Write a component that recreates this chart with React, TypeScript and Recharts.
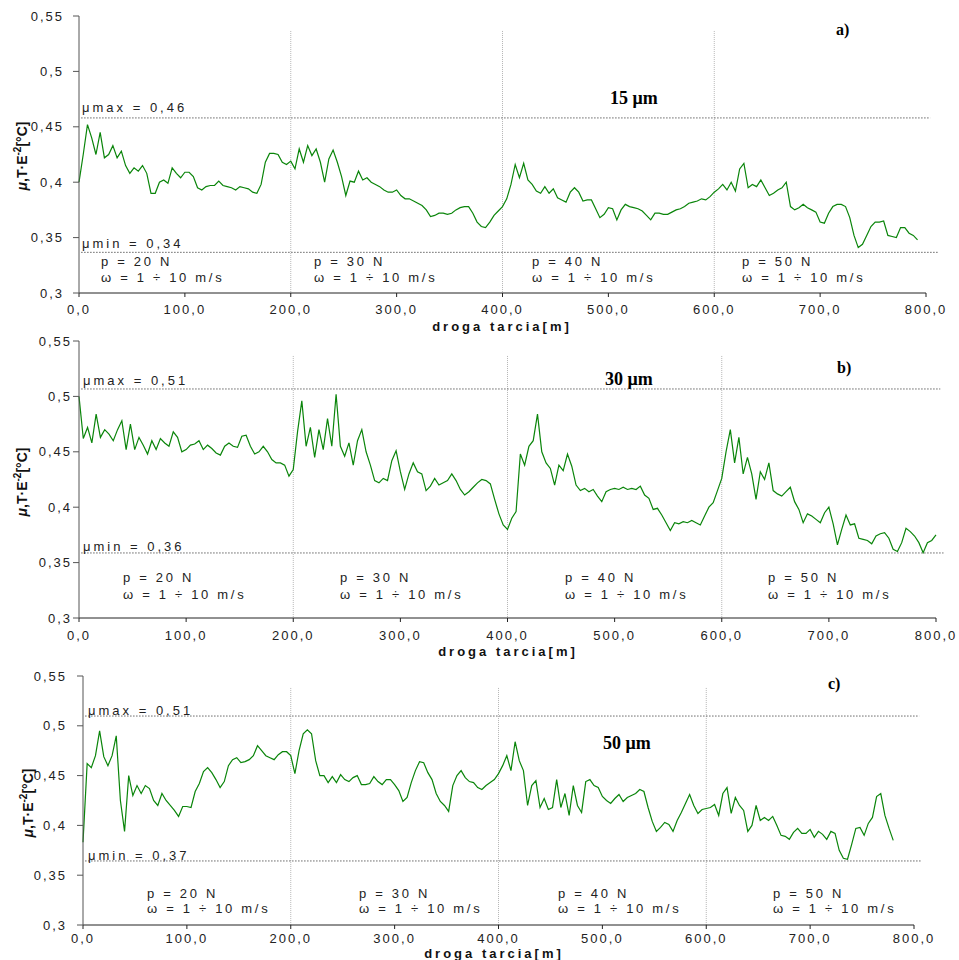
import React from "react";
import { LineChart, Line, XAxis, YAxis, ReferenceLine } from "recharts";

// sampling step of the friction-path readings [m]
const STEP_M = 4;

// ─── μ·T·E⁻² readings, 15 μm (panel a) ───────────────────────────────────────
const MU_15 = [
  0.400, 0.425, 0.452, 0.440, 0.425, 0.445, 0.422, 0.425, 0.433, 0.422,
  0.428, 0.415, 0.408, 0.413, 0.410, 0.415, 0.408, 0.390, 0.390, 0.400,
  0.402, 0.399, 0.413, 0.408, 0.404, 0.409, 0.409, 0.405, 0.395, 0.393,
  0.396, 0.397, 0.397, 0.401, 0.397, 0.396, 0.395, 0.393, 0.396, 0.395,
  0.394, 0.391, 0.390, 0.398, 0.418, 0.426, 0.426, 0.425, 0.418, 0.416,
  0.419, 0.412, 0.430, 0.418, 0.433, 0.424, 0.430, 0.418, 0.400, 0.421,
  0.429, 0.418, 0.405, 0.388, 0.401, 0.400, 0.410, 0.402, 0.404, 0.400,
  0.398, 0.396, 0.393, 0.391, 0.391, 0.393, 0.388, 0.385, 0.385, 0.383,
  0.381, 0.379, 0.375, 0.369, 0.370, 0.372, 0.372, 0.371, 0.372, 0.375,
  0.377, 0.378, 0.378, 0.372, 0.364, 0.360, 0.359, 0.364, 0.370, 0.374,
  0.378, 0.385, 0.398, 0.416, 0.404, 0.417, 0.402, 0.398, 0.392, 0.390,
  0.396, 0.390, 0.394, 0.386, 0.384, 0.382, 0.391, 0.395, 0.391, 0.383,
  0.384, 0.384, 0.376, 0.368, 0.371, 0.377, 0.376, 0.366, 0.375, 0.380,
  0.378, 0.377, 0.376, 0.374, 0.370, 0.366, 0.372, 0.372, 0.371, 0.371,
  0.373, 0.375, 0.376, 0.378, 0.381, 0.382, 0.383, 0.385, 0.384, 0.387,
  0.391, 0.394, 0.398, 0.393, 0.400, 0.392, 0.412, 0.417, 0.395, 0.398,
  0.396, 0.402, 0.395, 0.388, 0.390, 0.393, 0.395, 0.400, 0.378, 0.375,
  0.377, 0.380, 0.377, 0.375, 0.373, 0.364, 0.363, 0.372, 0.378, 0.380,
  0.380, 0.378, 0.368, 0.352, 0.341, 0.344, 0.352, 0.360, 0.364, 0.364,
  0.365, 0.352, 0.351, 0.350, 0.359, 0.359, 0.354, 0.352, 0.348,
];

// ─── 30 μm (panel b) ─────────────────────────────────────────────────────────
const MU_30 = [
  0.500, 0.462, 0.472, 0.458, 0.484, 0.463, 0.470, 0.466, 0.460, 0.470,
  0.478, 0.452, 0.475, 0.452, 0.463, 0.456, 0.448, 0.460, 0.452, 0.462,
  0.458, 0.455, 0.468, 0.463, 0.450, 0.452, 0.456, 0.457, 0.460, 0.452,
  0.456, 0.453, 0.449, 0.447, 0.455, 0.458, 0.455, 0.454, 0.464, 0.465,
  0.455, 0.448, 0.450, 0.455, 0.450, 0.443, 0.440, 0.440, 0.438, 0.428,
  0.434, 0.468, 0.496, 0.455, 0.472, 0.445, 0.470, 0.452, 0.480, 0.455,
  0.502, 0.455, 0.446, 0.458, 0.438, 0.460, 0.470, 0.450, 0.438, 0.424,
  0.422, 0.426, 0.424, 0.442, 0.451, 0.432, 0.416, 0.430, 0.440, 0.432,
  0.430, 0.415, 0.419, 0.426, 0.420, 0.422, 0.424, 0.430, 0.424, 0.416,
  0.411, 0.414, 0.418, 0.422, 0.425, 0.424, 0.421, 0.407, 0.394, 0.384,
  0.380, 0.390, 0.396, 0.448, 0.438, 0.455, 0.460, 0.484, 0.450, 0.440,
  0.435, 0.420, 0.438, 0.433, 0.448, 0.437, 0.420, 0.415, 0.417, 0.414,
  0.416, 0.410, 0.405, 0.414, 0.416, 0.417, 0.416, 0.418, 0.416, 0.417,
  0.416, 0.419, 0.411, 0.408, 0.398, 0.399, 0.393, 0.386, 0.379, 0.386,
  0.385, 0.387, 0.386, 0.388, 0.386, 0.384, 0.392, 0.400, 0.404, 0.415,
  0.426, 0.450, 0.470, 0.440, 0.463, 0.430, 0.445, 0.430, 0.407, 0.432,
  0.425, 0.440, 0.415, 0.412, 0.410, 0.414, 0.418, 0.405, 0.398, 0.386,
  0.394, 0.392, 0.389, 0.386, 0.395, 0.400, 0.385, 0.366, 0.380, 0.393,
  0.384, 0.385, 0.372, 0.371, 0.370, 0.367, 0.374, 0.376, 0.377, 0.372,
  0.362, 0.360, 0.368, 0.381, 0.378, 0.374, 0.368, 0.359, 0.368, 0.370,
  0.375,
];

// ─── 50 μm (panel c) ─────────────────────────────────────────────────────────
const MU_50 = [
  0.383, 0.462, 0.458, 0.470, 0.495, 0.469, 0.460, 0.470, 0.490, 0.425,
  0.394, 0.450, 0.430, 0.440, 0.432, 0.440, 0.437, 0.425, 0.420, 0.432,
  0.425, 0.420, 0.415, 0.409, 0.419, 0.419, 0.418, 0.434, 0.442, 0.454,
  0.458, 0.453, 0.446, 0.438, 0.444, 0.460, 0.466, 0.468, 0.463, 0.464,
  0.466, 0.470, 0.480, 0.475, 0.470, 0.468, 0.466, 0.471, 0.474, 0.474,
  0.470, 0.452, 0.475, 0.492, 0.496, 0.492, 0.465, 0.450, 0.450, 0.443,
  0.449, 0.443, 0.451, 0.446, 0.444, 0.448, 0.450, 0.441, 0.441, 0.442,
  0.449, 0.444, 0.441, 0.446, 0.446, 0.441, 0.435, 0.424, 0.428, 0.443,
  0.455, 0.464, 0.463, 0.453, 0.446, 0.432, 0.424, 0.420, 0.414, 0.440,
  0.450, 0.455, 0.448, 0.444, 0.443, 0.438, 0.436, 0.440, 0.443, 0.446,
  0.452, 0.460, 0.470, 0.455, 0.484, 0.465, 0.455, 0.420, 0.440, 0.445,
  0.418, 0.427, 0.416, 0.418, 0.446, 0.418, 0.432, 0.410, 0.440, 0.420,
  0.413, 0.444, 0.446, 0.440, 0.438, 0.429, 0.425, 0.422, 0.427, 0.431,
  0.424, 0.428, 0.430, 0.432, 0.436, 0.434, 0.418, 0.404, 0.394, 0.398,
  0.403, 0.401, 0.394, 0.405, 0.413, 0.422, 0.431, 0.420, 0.412, 0.416,
  0.417, 0.418, 0.421, 0.410, 0.432, 0.438, 0.412, 0.428, 0.420, 0.415,
  0.394, 0.400, 0.420, 0.405, 0.408, 0.405, 0.409, 0.400, 0.390, 0.389,
  0.386, 0.393, 0.397, 0.392, 0.392, 0.396, 0.388, 0.394, 0.391, 0.386,
  0.394, 0.392, 0.375, 0.367, 0.366, 0.381, 0.397, 0.398, 0.390, 0.402,
  0.408, 0.429, 0.432, 0.410, 0.397, 0.385,
];

const X_TICKS = [0, 100, 200, 300, 400, 500, 600, 700, 800];
const Y_TICKS = [0.3, 0.35, 0.4, 0.45, 0.5, 0.55];
const SECTION_BOUNDS = [200, 400, 600];
const LOADS = ["p = 20 N", "p = 30 N", "p = 40 N", "p = 50 N"];
const SPEED = "ω = 1 ÷ 10 m/s";

const MU_MAX = [0.458, 0.5067, 0.5098];
const MU_MIN = [0.3367, 0.3587, 0.3643];
const MU_MAX_TXT = ["0,46", "0,51", "0,51"];
const MU_MIN_TXT = ["0,34", "0,36", "0,37"];
const ROUGHNESS = ["15 μm", "30 μm", "50 μm"];
const PANEL_TAGS = ["a)", "b)", "c)"];

const SANS = "'Liberation Sans', Arial, sans-serif";
const SERIF = "'Liberation Serif', 'Times New Roman', serif";
const GREEN = "#0a850a";

const fmtX = (v: number) => v.toFixed(1).replace(".", ",");
const fmtY = (v: number) => String(v).replace(".", ",");

// layout of each panel on the page (pixels)
const PANELS = [
  {
    mu: MU_15, left: 79, right: 926, top: 16, bottom: 293,
    vTop: 0.5365, lineEnds: [804, 812], xTickMargin: 8, yTickMargin: 9,
    muLabelX: 82, muMaxY: 108, muMinY: 244,
    loadX: [101, 314, 532, 742], loadY: 262, speedY: 278,
    titleX: 610, titleY: 98, tagX: 836, tagY: 30, axisX: 502, axisY: 327, yLabX: 20, yLabY: 156,
  },
  {
    mu: MU_30, left: 79, right: 936, top: 341, bottom: 618,
    vTop: 0.5365, lineEnds: [804, 807], xTickMargin: 9, yTickMargin: 1,
    muLabelX: 83, muMaxY: 381, muMinY: 547,
    loadX: [123, 340, 565, 768], loadY: 578, speedY: 595,
    titleX: 605, titleY: 379, tagX: 837, tagY: 368, axisX: 508, axisY: 652, yLabX: 20, yLabY: 482,
  },
  {
    mu: MU_50, left: 83, right: 914, top: 676, bottom: 925,
    vTop: 0.538, lineEnds: [805, 807], xTickMargin: 5, yTickMargin: 10,
    muLabelX: 88, muMaxY: 711, muMinY: 856,
    loadX: [147, 359, 558, 773], loadY: 894, speedY: 909,
    titleX: 603, titleY: 743, tagX: 828, tagY: 684, axisX: 494, axisY: 954, yLabX: 26, yLabY: 803,
  },
];

const TextAt = ({ x, y, children, style }: any) => (
  <div
    style={{
      position: "absolute", left: x, top: y - 8, lineHeight: "16px", whiteSpace: "nowrap",
      fontFamily: SANS, fontSize: 13, color: "#222", letterSpacing: 2.7, ...style,
    }}
  >
    {children}
  </div>
);

function Panel({ p, idx }: { p: (typeof PANELS)[number]; idx: number }) {
  const data = p.mu.map((mu, i) => ({ d: i * STEP_M, mu }));
  const mTop = 10;
  const xH = 30;
  const yW = 50;
  const height = mTop + (p.bottom - p.top) + xH + 2;
  const tickStyle = { fill: "#222", fontSize: 13, fontFamily: SANS, letterSpacing: 2 };
  return (
    <>
      <div style={{ position: "absolute", left: 0, top: p.top - mTop }}>
        <LineChart
          width={959}
          height={height}
          data={data}
          margin={{ top: mTop, right: 959 - p.right, bottom: 2, left: p.left - yW }}
        >
          <XAxis
            dataKey="d" type="number" domain={[0, 800]} ticks={X_TICKS}
            tickFormatter={fmtX} height={xH} tickSize={4} tickMargin={p.xTickMargin}
            stroke="#222" tick={tickStyle}
          />
          <YAxis
            type="number" domain={[0.3, 0.55]} ticks={Y_TICKS} width={yW}
            tickFormatter={fmtY} tickSize={6} tickMargin={p.yTickMargin}
            stroke="#555" tick={tickStyle}
          />
          {SECTION_BOUNDS.map((b) => (
            <ReferenceLine
              key={b}
              segment={[{ x: b, y: p.vTop }, { x: b, y: 0.3 }]}
              stroke="#b5b5b5" strokeDasharray="1 1" ifOverflow="visible"
            />
          ))}
          <ReferenceLine
            segment={[{ x: 2, y: MU_MAX[idx] }, { x: p.lineEnds[0], y: MU_MAX[idx] }]}
            stroke="#666" strokeDasharray="1.5 1.5" ifOverflow="visible"
          />
          <ReferenceLine
            segment={[{ x: 2, y: MU_MIN[idx] }, { x: p.lineEnds[1], y: MU_MIN[idx] }]}
            stroke="#666" strokeDasharray="1.5 1.5" ifOverflow="visible"
          />
          <Line
            type="linear" dataKey="mu" stroke={GREEN} strokeWidth={1.2}
            dot={false} isAnimationActive={false}
          />
        </LineChart>
      </div>

      <TextAt x={p.muLabelX} y={p.muMaxY} style={{ letterSpacing: 3 }}>μmax = {MU_MAX_TXT[idx]}</TextAt>
      <TextAt x={p.muLabelX} y={p.muMinY} style={{ letterSpacing: 3 }}>μmin = {MU_MIN_TXT[idx]}</TextAt>
      {LOADS.map((l, i) => (
        <React.Fragment key={l}>
          <TextAt x={p.loadX[i]} y={p.loadY}>{l}</TextAt>
          <TextAt x={p.loadX[i]} y={p.speedY}>{SPEED}</TextAt>
        </React.Fragment>
      ))}
      <TextAt x={p.titleX} y={p.titleY} style={{ fontFamily: SERIF, fontWeight: "bold", fontSize: 18, letterSpacing: 0, color: "#000" }}>
        {ROUGHNESS[idx]}
      </TextAt>
      <TextAt x={p.tagX} y={p.tagY} style={{ fontFamily: SERIF, fontWeight: "bold", fontSize: 16, letterSpacing: 0, color: "#000" }}>
        {PANEL_TAGS[idx]}
      </TextAt>
      <TextAt
        x={p.axisX} y={p.axisY}
        style={{
          fontWeight: "bold", letterSpacing: 3, transform: "translateX(-50%)", color: "#111",
          lineHeight: "11px", top: p.axisY - 6,
        }}
      >
        droga tarcia[m]
      </TextAt>
      <div
        style={{
          position: "absolute", left: p.yLabX, top: p.yLabY, whiteSpace: "nowrap",
          transform: "translate(-50%, -50%) rotate(-90deg)", fontFamily: SANS,
          fontWeight: "bold", fontSize: 14, color: "#111", lineHeight: "16px",
        }}
      >
        <i>μ</i>,T·E<sup style={{ fontSize: 10 }}>-2</sup>[°C]
      </div>
    </>
  );
}

export default function App() {
  return (
    <div style={{ position: "absolute", left: 0, top: 0, width: 959, height: 960, background: "#fff", overflow: "hidden" }}>
      {PANELS.map((p, i) => (
        <Panel key={i} p={p} idx={i} />
      ))}
    </div>
  );
}
